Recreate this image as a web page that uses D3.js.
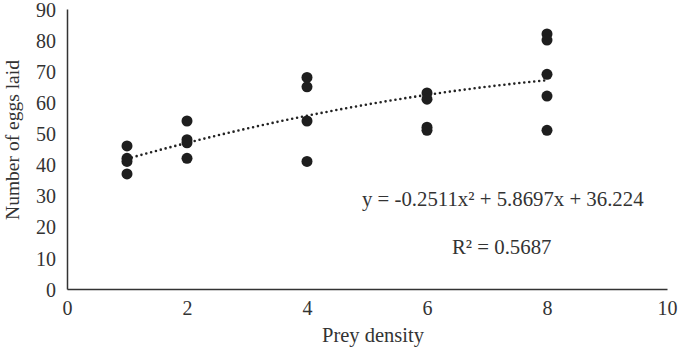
<!DOCTYPE html>
<html><head><meta charset="utf-8">
<script src="https://cdn.jsdelivr.net/npm/d3@7"></script>
<style>
body{margin:0;background:#fff;}
svg text{font-family:"Liberation Serif","Times New Roman",serif;fill:#333;}
</style></head>
<body><svg id="c" width="685" height="348"></svg>
<script>
// Data
const densities = [1,1,1,1, 2,2,2,2, 4,4,4,4, 6,6,6,6, 8,8,8,8,8];
const eggs      = [46,42,41,37, 54,48,47,42, 68,65,54,41, 63,61,52,51, 82,80,69,62,51];
const coef = {a:-0.2511, b:5.8697, c:36.224};
const xTicks = [0,2,4,6,8,10];
const yTicks = [0,10,20,30,40,50,60,70,80,90];
const eqLabel = "y = -0.2511x² + 5.8697x + 36.224";
const r2Label = "R² = 0.5687";
const xTitle = "Prey density";
const yTitle = "Number of eggs laid";

const svg = d3.select("#c");
const x = d3.scaleLinear().domain([0,10]).range([67,667]);
const y = d3.scaleLinear().domain([0,90]).range([289,9]);

// axes
const xAx = svg.append("g").attr("transform","translate(0,289)")
  .call(d3.axisBottom(x).tickValues(xTicks).tickSize(0).tickPadding(12));
const yAx = svg.append("g").attr("transform","translate(67,0)")
  .call(d3.axisLeft(y).tickValues(yTicks).tickSize(0).tickPadding(11));
[xAx,yAx].forEach(g=>{
  g.select(".domain").attr("stroke","#333").attr("stroke-width",1.5);
  g.selectAll("text").attr("font-size",20).attr("font-family","Liberation Serif").attr("fill","#333");
});
yAx.selectAll("text").attr("dy","0.36em");

// trend line
const xs = d3.range(1,8.001,0.05);
const line = d3.line().x(d=>x(d)).y(d=>y(coef.a*d*d+coef.b*d+coef.c));
svg.append("path").datum(xs).attr("d",line).attr("fill","none")
  .attr("stroke","#222").attr("stroke-width",2.6).attr("stroke-linecap","round")
  .attr("stroke-dasharray","0,5");

// points
svg.append("g").selectAll("circle").data(densities).join("circle")
  .attr("cx",(d)=>x(d)).attr("cy",(d,i)=>y(eggs[i])).attr("r",5.5).attr("fill","#1e1e1e");

// labels
svg.append("text").attr("x",362).attr("y",206).attr("font-size",20.8).text(eqLabel);
svg.append("text").attr("x",452).attr("y",254).attr("font-size",20.8).text(r2Label);
svg.append("text").attr("x",373).attr("y",342).attr("text-anchor","middle").attr("font-size",20.5).text(xTitle);
svg.append("text").attr("transform","translate(19,140) rotate(-90)").attr("text-anchor","middle").attr("font-size",19.5).text(yTitle);
</script></body></html>
